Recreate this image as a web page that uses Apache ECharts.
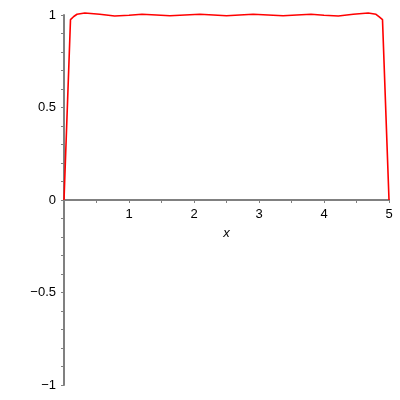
<!DOCTYPE html>
<html>
<head>
<meta charset="utf-8">
<script src="https://cdn.jsdelivr.net/npm/echarts@6/dist/echarts.min.js"></script>
<style>html,body{margin:0;padding:0;background:#fff}#c{width:400px;height:400px}</style>
</head>
<body>
<div id="c"></div>
<script>
const xValues = [0, 0.1, 0.15, 0.2, 0.32, 0.55, 0.78, 1.0, 1.2, 1.42, 1.63, 1.86, 2.09, 2.3, 2.5, 2.7, 2.91, 3.14, 3.37, 3.58, 3.8, 4.0, 4.22, 4.45, 4.68, 4.8, 4.85, 4.9, 5.0];
const yValues = [0, 0.975, 0.992, 1.004, 1.011, 1.004, 0.995, 0.999, 1.004, 1.0, 0.996, 1.0, 1.004, 1.0, 0.996, 1.0, 1.004, 1.0, 0.996, 1.0, 1.004, 0.999, 0.995, 1.004, 1.011, 1.004, 0.99, 0.975, 0];
const xTicks = [1, 2, 3, 4, 5];
const yTicks = [-1, -0.5, 0, 0.5, 1];

const fmt = v => String(v).replace('-', '\u2212');
const axisColor = '#808080';
const font = {fontFamily: 'Liberation Sans', fontSize: 13, color: '#000'};
const chart = echarts.init(document.getElementById('c'));
chart.setOption({
  animation: false,
  backgroundColor: '#fff',
  grid: [
    {left: 64, right: 11, top: 15, bottom: 15, containLabel: false, outerBoundsMode: 'none'},
    // upper half: its bottom edge is the y = 0 line, used to carry the x-axis
    {left: 64, right: 11, top: 15, bottom: 200, containLabel: false, outerBoundsMode: 'none'}
  ],
  xAxis: [{
    gridIndex: 0, type: 'value', min: 0, max: 5, interval: 1,
    axisLine: {show: false}, axisTick: {show: false}, axisLabel: {show: false}, splitLine: {show: false}
  }, {
    gridIndex: 1, type: 'value', min: 0, max: 5, interval: 1, position: 'bottom',
    name: 'x', nameLocation: 'middle', nameGap: 27,
    nameTextStyle: Object.assign({fontStyle: 'italic'}, font),
    axisLine: {onZero: false, lineStyle: {color: axisColor, width: 2}},
    axisTick: {show: true, length: 3, lineStyle: {color: axisColor, width: 1}},
    minorTick: {show: true, splitNumber: 2, length: 3, lineStyle: {color: axisColor, width: 1}},
    splitLine: {show: false},
    axisLabel: Object.assign({margin: 8, formatter: v => xTicks.includes(v) ? fmt(v) : ''}, font)
  }],
  yAxis: [{
    gridIndex: 0, type: 'value', min: -1, max: 1, interval: 0.5,
    axisLine: {onZero: false, lineStyle: {color: axisColor, width: 2}},
    axisTick: {show: true, length: 3, lineStyle: {color: axisColor, width: 1}},
    minorTick: {show: true, splitNumber: 5, length: 3, lineStyle: {color: axisColor, width: 1}},
    splitLine: {show: false},
    axisLabel: Object.assign({margin: 8, formatter: v => yTicks.includes(v) ? fmt(v) : ''}, font)
  }, {
    gridIndex: 1, type: 'value', min: 0, max: 1, show: false
  }],
  series: [{
    type: 'line', xAxisIndex: 0, yAxisIndex: 0,
    data: xValues.map((x, i) => [x, yValues[i]]),
    showSymbol: false,
    smooth: false,
    lineStyle: {color: '#ff0000', width: 1.6},
    clip: false
  }]
});
</script>
</body>
</html>
